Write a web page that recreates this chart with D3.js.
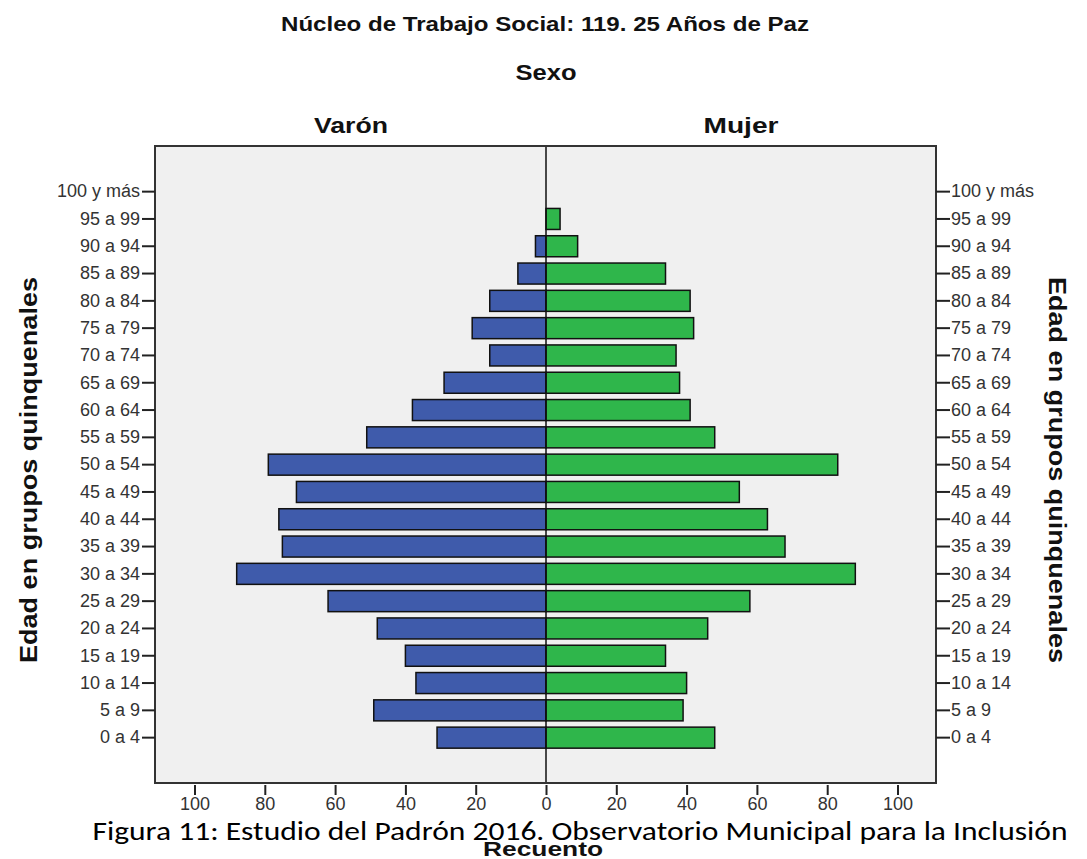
<!DOCTYPE html>
<html>
<head>
<meta charset="utf-8">
<script src="https://cdn.jsdelivr.net/npm/d3@7"></script>
<style>
  html, body { margin: 0; padding: 0; background: #ffffff; }
  svg { display: block; }
</style>
</head>
<body>
<svg id="chart" width="1087" height="859"></svg>
<script>
// ---- Data ----
const ageGroups = ["100 y más","95 a 99","90 a 94","85 a 89","80 a 84","75 a 79","70 a 74","65 a 69","60 a 64","55 a 59","50 a 54","45 a 49","40 a 44","35 a 39","30 a 34","25 a 29","20 a 24","15 a 19","10 a 14","5 a 9","0 a 4"];
const maleValues   = [0,0,3,8,16,21,16,29,38,51,79,71,76,75,88,62,48,40,37,49,31];
const femaleValues = [0,4,9,34,41,42,37,38,41,48,83,55,63,68,88,58,46,34,40,39,48];
const xTickValues = [-100,-80,-60,-40,-20,0,20,40,60,80,100];
const titleText = "Núcleo de Trabajo Social: 119. 25 Años de Paz";
const panelTitle = "Sexo";
const sexLabels = ["Varón","Mujer"];
const yTitle = "Edad en grupos quinquenales";
const xTitle = "Recuento";
const captionText = "Figura 11: Estudio del Padrón 2016. Observatorio Municipal para la Inclusión";

// ---- Layout ----
const svg = d3.select("#chart");
const frame = {left: 155, right: 936, top: 146, bottom: 783};
const blue = "#3f5bab", green = "#2fb64b";
const sansFont = "'Liberation Sans', Arimo, Arial, sans-serif";

const x = d3.scaleLinear().domain([-100, 100]).range([194.5, 897.5]);
const y = d3.scaleBand().domain(ageGroups).range([178, 751.3]).paddingInner(0.23).paddingOuter(0.115);

// plot background
svg.append("rect")
  .attr("x", frame.left).attr("y", frame.top)
  .attr("width", frame.right - frame.left).attr("height", frame.bottom - frame.top)
  .attr("fill", "#f0f0f0");

// bars
const rows = ageGroups.map((g, i) => ({g, m: maleValues[i], f: femaleValues[i]}));
svg.append("g").selectAll("rect").data(rows.filter(d => d.m > 0)).join("rect")
  .attr("x", d => x(-d.m)).attr("y", d => y(d.g))
  .attr("width", d => x(0) - x(-d.m)).attr("height", y.bandwidth())
  .attr("fill", blue).attr("stroke", "#111").attr("stroke-width", 1.5);
svg.append("g").selectAll("rect").data(rows.filter(d => d.f > 0)).join("rect")
  .attr("x", x(0)).attr("y", d => y(d.g))
  .attr("width", d => x(d.f) - x(0)).attr("height", y.bandwidth())
  .attr("fill", green).attr("stroke", "#111").attr("stroke-width", 1.5);

// centre line
svg.append("line")
  .attr("x1", x(0)).attr("x2", x(0)).attr("y1", frame.top).attr("y2", frame.bottom)
  .attr("stroke", "#111").attr("stroke-width", 1.5);

// frame
svg.append("rect")
  .attr("x", frame.left).attr("y", frame.top)
  .attr("width", frame.right - frame.left).attr("height", frame.bottom - frame.top)
  .attr("fill", "none").attr("stroke", "#333").attr("stroke-width", 2);

// axes
function styleAxis(g) {
  g.select(".domain").remove();
  g.selectAll(".tick line").attr("stroke", "#222").attr("stroke-width", 2);
  g.selectAll(".tick text").attr("fill", "#333")
    .style("font-family", sansFont).style("font-size", "18px");
}
const yLeft = d3.axisLeft(y).tickSize(13).tickPadding(2);
svg.append("g").attr("transform", `translate(${frame.left},0)`).call(yLeft).call(styleAxis);
const yRight = d3.axisRight(y).tickSize(14).tickPadding(1);
svg.append("g").attr("transform", `translate(${frame.right},0)`).call(yRight).call(styleAxis);
const xAxis = d3.axisBottom(x).tickValues(xTickValues).tickFormat(d => Math.abs(d)).tickSize(10).tickPadding(2);
svg.append("g").attr("transform", `translate(0,${frame.bottom + 2})`).call(xAxis).call(styleAxis);

// titles
function addText(txt, xx, yy, size, len, opts = {}) {
  const t = svg.append("text")
    .attr("x", xx).attr("y", yy)
    .attr("text-anchor", "middle")
    .style("font-family", opts.family || sansFont)
    .style("font-size", size + "px")
    .style("font-weight", opts.weight || "bold")
    .attr("fill", opts.fill || "#111")
    .text(txt);
  if (len) t.attr("textLength", len).attr("lengthAdjust", "spacingAndGlyphs");
  if (opts.rotate) t.attr("transform", `rotate(${opts.rotate},${xx},${yy})`);
  return t;
}
addText(titleText, 545, 31, 21, 528);
addText(panelTitle, 546, 80, 22, 61);
addText(sexLabels[0], 351, 133, 22, 74);
addText(sexLabels[1], 741, 133, 22, 75);
addText(xTitle, 543, 856, 21, 120);
addText(yTitle, 37, 470, 23, 386, {rotate: -90});
addText(yTitle, 1049, 470, 23, 386, {rotate: 90});
addText(captionText, 580, 840, 27, 975, {weight: "normal", family: "Carlito, Calibri, 'Open Sans', sans-serif", fill: "#000"});
</script>
</body>
</html>
